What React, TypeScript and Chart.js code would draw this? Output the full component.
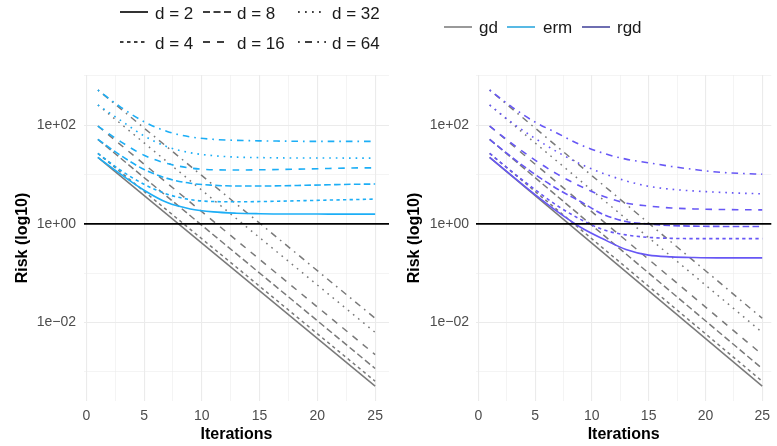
import React, { useEffect, useRef } from 'react';
import { Chart, registerables } from 'chart.js';

Chart.register(...registerables);

// ---------- data ----------
const D_VALUES = [2, 4, 8, 16, 32, 64];
const GD_ITER = [1, 25];
const CURVE_ITER = [1, 3, 5, 7, 9, 11, 13, 15, 17, 19, 21, 23, 25];

const GD_D2 = [22.1, 0.000513];
const GD_D4 = [26.7, 0.000646];
const GD_D8 = [51.3, 0.00117];
const GD_D16 = [95.5, 0.00224];
const GD_D32 = [255, 0.00631];
const GD_D64 = [513, 0.0122];

const ERM_D2 = [22.1, 10.0, 4.79, 2.69, 2.0, 1.74, 1.64, 1.6, 1.58, 1.58, 1.57, 1.57, 1.57];
const ERM_D4 = [26.7, 12.0, 6.31, 3.98, 3.09, 2.82, 2.79, 2.82, 2.88, 2.95, 3.02, 3.09, 3.16];
const ERM_D8 = [51.3, 24.0, 12.6, 8.32, 6.61, 6.03, 5.82, 5.82, 5.89, 6.03, 6.17, 6.31, 6.38];
const ERM_D16 = [95.5, 45.7, 24.5, 16.6, 13.5, 12.4, 12.3, 12.4, 12.6, 12.9, 13.2, 13.5, 13.6];
const ERM_D32 = [255, 123, 60.3, 36.3, 27.5, 24.0, 22.4, 21.9, 21.6, 21.5, 21.5, 21.4, 21.4];
const ERM_D64 = [513, 229, 117, 74.1, 57.5, 51.3, 49.0, 47.9, 47.3, 46.8, 46.8, 46.8, 46.8];

const RGD_D2 = [22.1, 9.22, 3.89, 1.74, 0.851, 0.49, 0.302, 0.232, 0.214, 0.207, 0.204, 0.204, 0.204];
const RGD_D4 = [26.7, 11.2, 4.9, 2.29, 1.23, 0.759, 0.596, 0.531, 0.507, 0.501, 0.501, 0.501, 0.501];
const RGD_D8 = [51.3, 21.9, 10.0, 5.01, 2.82, 1.55, 1.11, 0.989, 0.923, 0.895, 0.885, 0.881, 0.879];
const RGD_D16 = [95.5, 41.7, 19.5, 10.0, 5.75, 3.63, 2.63, 2.29, 2.09, 2.0, 1.95, 1.93, 1.91];
const RGD_D32 = [255, 110, 53.7, 28.2, 16.2, 10.5, 7.41, 5.75, 5.01, 4.62, 4.37, 4.17, 4.05];
const RGD_D64 = [513, 229, 115, 67.6, 39.8, 26.9, 20.4, 17.2, 14.5, 12.6, 11.2, 10.5, 10.1];

const GD_SERIES = [GD_D2, GD_D4, GD_D8, GD_D16, GD_D32, GD_D64];
const ERM_SERIES = [ERM_D2, ERM_D4, ERM_D8, ERM_D16, ERM_D32, ERM_D64];
const RGD_SERIES = [RGD_D2, RGD_D4, RGD_D8, RGD_D16, RGD_D32, RGD_D64];

const METHOD_LABELS = ['gd', 'erm', 'rgd'];
const X_TICKS = [0, 2.5, 5, 7.5, 10, 12.5, 15, 17.5, 20, 22.5, 25];
const Y_TICKS = [0.001, 0.01, 0.1, 1, 10, 100, 1000];
const Y_TICK_LABELS: Record<string, string> = { '0.01': '1e\u221202', '1': '1e+00', '100': '1e+02' };
const HLINE_VALUE = 1;
const Y_MIN = 0.000257;
const Y_MAX = 1033;

// ---------- styles ----------
const FONT = "'Liberation Sans', Arial, Helvetica, sans-serif";
const GD_COLOR = '#7a7a7a';
const ERM_COLOR = '#1caef6';
const RGD_COLOR = '#6757f5';
const LEG_COLORS = ['#7f7f7f', '#2ea7de', '#4a4a9e'];
const U = 1.65;
const DASHES = [[], [2 * U, 2 * U], [4 * U, 2 * U], [4 * U, 4 * U], [1 * U, 3 * U], [1 * U, 3 * U, 4 * U, 3 * U]];
const LU = 1.75;
const LEG_DASHES = [[], [2 * LU, 2 * LU], [4 * LU, 2 * LU], [4 * LU, 4 * LU], [1 * LU, 3 * LU], [1 * LU, 3 * LU, 4 * LU, 3 * LU]];

const hlinePlugin = {
  id: 'hline',
  afterDatasetsDraw(chart: any) {
    const { ctx, chartArea, scales } = chart;
    const y = scales.y.getPixelForValue(HLINE_VALUE);
    ctx.save();
    ctx.strokeStyle = '#000';
    ctx.lineWidth = 1.8;
    ctx.beginPath();
    ctx.moveTo(chartArea.left, y);
    ctx.lineTo(chartArea.right, y);
    ctx.stroke();
    ctx.restore();
  },
};

type PanelProps = {
  series: number[][];
  color: string;
  width: number;
  yAxisWidth: number;
  xMax: number;
  padRight: number;
  tickPad: number;
  titlePad: number;
};

function Panel({ series, color, width, yAxisWidth, xMax, padRight, tickPad, titlePad }: PanelProps) {
  const ref = useRef<HTMLCanvasElement | null>(null);
  useEffect(() => {
    if (!ref.current) return;
    const datasets: any[] = [];
    D_VALUES.forEach((d, i) => {
      datasets.push({
        label: `gd d=${d}`,
        data: GD_ITER.map((x, j) => ({ x, y: GD_SERIES[i][j] })),
        borderColor: GD_COLOR,
        borderWidth: 1.5,
        borderDash: DASHES[i],
        pointRadius: 0,
        fill: false,
        order: 1,
      });
    });
    D_VALUES.forEach((d, i) => {
      datasets.push({
        label: `d=${d}`,
        data: CURVE_ITER.map((x, j) => ({ x, y: series[i][j] })),
        borderColor: color,
        borderWidth: 1.6,
        borderDash: DASHES[i],
        pointRadius: 0,
        fill: false,
        cubicInterpolationMode: 'monotone',
        order: 0,
      });
    });
    const chart = new Chart(ref.current, {
      type: 'line',
      data: { datasets },
      plugins: [hlinePlugin],
      options: {
        animation: false,
        responsive: false,
        maintainAspectRatio: false,
        layout: { padding: { top: 75, right: padRight, bottom: 0, left: 0 } },
        plugins: { legend: { display: false }, tooltip: { enabled: false } },
        scales: {
          x: {
            type: 'linear',
            min: -0.2,
            max: xMax,
            afterBuildTicks: (s: any) => {
              s.ticks = X_TICKS.filter((v) => v >= s.min && v <= s.max).map((v) => ({ value: v }));
            },
            afterFit: (s: any) => {
              s.height = 45;
            },
            border: { display: false },
            grid: {
              drawTicks: false,
              color: '#ebebeb',
              lineWidth: (c: any) => (c.tick && c.tick.value % 5 === 0 ? 1.1 : 0.55),
            },
            ticks: {
              padding: 7,
              color: '#4d4d4d',
              font: { size: 14, family: FONT },
              maxRotation: 0,
              autoSkip: false,
              callback: (v: any) => (Number(v) % 5 === 0 ? String(v) : ''),
            },
            title: {
              display: true,
              text: 'Iterations',
              color: '#000',
              font: { size: 16, weight: 'bold', family: FONT },
              padding: { top: 0, bottom: 2 },
            },
          },
          y: {
            type: 'logarithmic',
            min: Y_MIN,
            max: Y_MAX,
            bounds: 'data',
            afterBuildTicks: (s: any) => {
              s.ticks = Y_TICKS.filter((v) => v >= s.min && v <= s.max).map((v) => ({ value: v }));
            },
            afterFit: (s: any) => {
              s.width = yAxisWidth;
            },
            border: { display: false },
            grid: {
              drawTicks: false,
              color: '#ebebeb',
              lineWidth: (c: any) => (c.tick && Y_TICK_LABELS[String(c.tick.value)] ? 1.1 : 0.55),
            },
            ticks: {
              padding: tickPad,
              color: '#4d4d4d',
              font: { size: 14, family: FONT },
              autoSkip: false,
              callback: (v: any) => Y_TICK_LABELS[String(v)] || '',
            },
            title: {
              display: true,
              text: 'Risk (log10)',
              color: '#000',
              font: { size: 16, weight: 'bold', family: FONT },
              padding: { top: titlePad, bottom: 0 },
            },
          },
        },
      } as any,
    });
    return () => chart.destroy();
  }, []);
  return <canvas ref={ref} width={width} height={446} style={{ display: 'block', width, height: 446 }} />;
}

const LT_LEGEND = [
  { i: 0, keyX: 120, textX: 155, row: 0 },
  { i: 2, keyX: 203, textX: 237, row: 0 },
  { i: 4, keyX: 298, textX: 332, row: 0 },
  { i: 1, keyX: 120, textX: 155, row: 1 },
  { i: 3, keyX: 203, textX: 237, row: 1 },
  { i: 5, keyX: 298, textX: 332, row: 1 },
];
const COLOR_LEGEND = [
  { keyX: 444, textX: 479 },
  { keyX: 507, textX: 543 },
  { keyX: 582, textX: 617 },
];

function KeyLine({ x, y, dash, color }: { x: number; y: number; dash: number[]; color: string }) {
  return (
    <svg style={{ position: 'absolute', left: x, top: y - 3, overflow: 'visible' }} width={28} height={6}>
      <line x1={0} y1={3} x2={28} y2={3} stroke={color} strokeWidth={1.6} strokeDasharray={dash.length ? dash.join(' ') : undefined} />
    </svg>
  );
}

function LegendText({ x, y, text }: { x: number; y: number; text: string }) {
  return (
    <div
      style={{
        position: 'absolute',
        left: x,
        top: y - 10,
        height: 20,
        lineHeight: '20px',
        fontSize: 17,
        fontFamily: FONT,
        color: '#1a1a1a',
        whiteSpace: 'nowrap',
      }}
    >
      {text}
    </div>
  );
}

export default function App() {
  return (
    <div style={{ position: 'fixed', left: 0, top: 0, width: 777, height: 446, overflow: 'hidden', background: '#fff' }}>
      <div style={{ position: 'absolute', left: 0, top: 0 }}>
        <Panel series={ERM_SERIES} color={ERM_COLOR} width={390} yAxisWidth={84} xMax={26.2} padRight={1} tickPad={8} titlePad={12.6} />
      </div>
      <div style={{ position: 'absolute', left: 390, top: 0 }}>
        <Panel series={RGD_SERIES} color={RGD_COLOR} width={387} yAxisWidth={86} xMax={25.8} padRight={0} tickPad={7} titlePad={15.3} />
      </div>
      {LT_LEGEND.map((it) => (
        <React.Fragment key={'lt' + it.i}>
          <KeyLine x={it.keyX} y={12 + it.row * 30} dash={LEG_DASHES[it.i]} color="#000" />
          <LegendText x={it.textX} y={13.5 + it.row * 30} text={`d = ${D_VALUES[it.i]}`} />
        </React.Fragment>
      ))}
      {COLOR_LEGEND.map((it, k) => (
        <React.Fragment key={'c' + k}>
          <KeyLine x={it.keyX} y={26.7} dash={[]} color={LEG_COLORS[k]} />
          <LegendText x={it.textX} y={27.5} text={METHOD_LABELS[k]} />
        </React.Fragment>
      ))}
    </div>
  );
}
